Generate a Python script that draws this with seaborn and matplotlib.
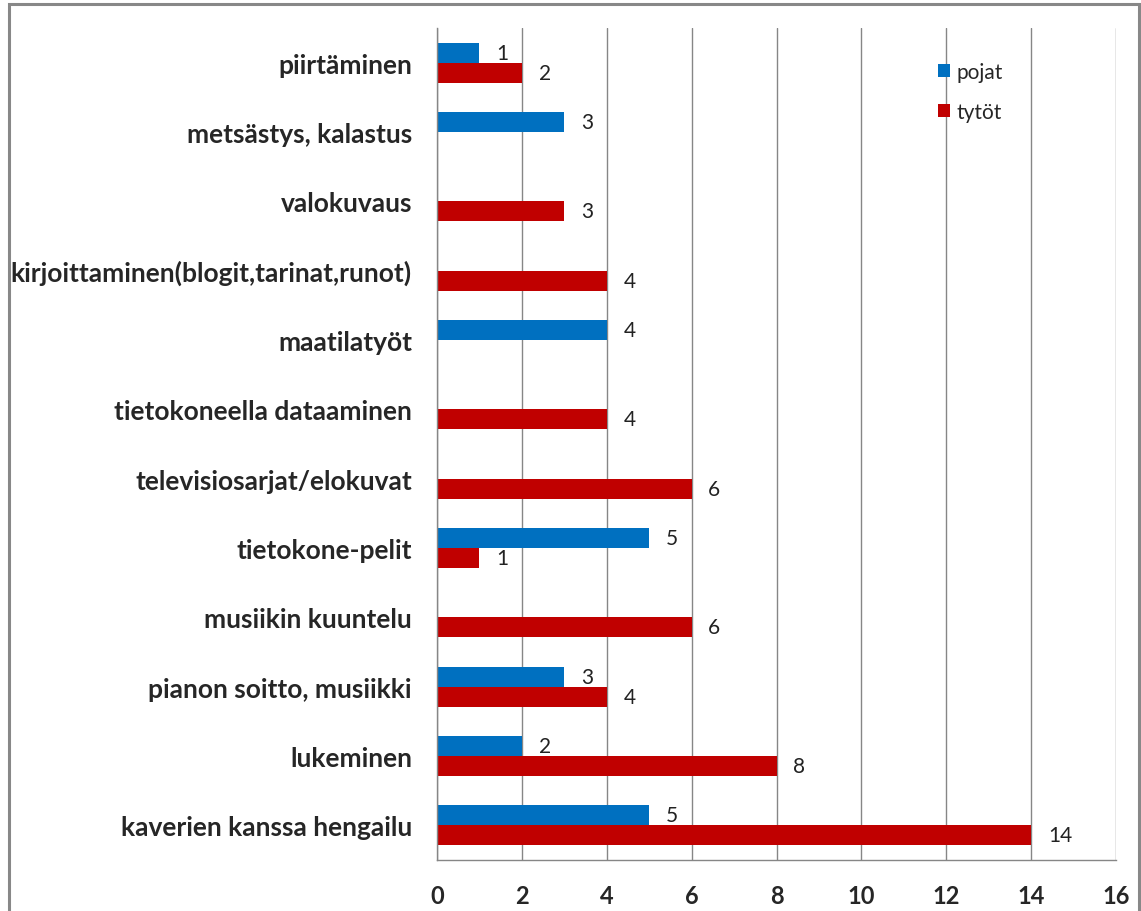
import matplotlib
matplotlib.use("Agg")
import matplotlib.pyplot as plt
import seaborn as sns
import pandas as pd
import numpy as np
from matplotlib.patches import Rectangle

categories = [
    "piirtäminen",
    "metsästys, kalastus",
    "valokuvaus",
    "kirjoittaminen(blogit,tarinat,runot)",
    "maatilatyöt",
    "tietokoneella dataaminen",
    "televisiosarjat/elokuvat",
    "tietokone-pelit",
    "musiikin kuuntelu",
    "pianon soitto, musiikki",
    "lukeminen",
    "kaverien kanssa hengailu",
]
pojat = [1, 3, 0, 0, 4, 0, 0, 5, 0, 3, 2, 5]
tytot = [2, 0, 3, 4, 0, 4, 6, 1, 6, 4, 8, 14]
series = ["pojat", "tytöt"]
colors = ["#0070C0", "#C00000"]
x_ticks = [0, 2, 4, 6, 8, 10, 12, 14, 16]

df = pd.DataFrame({
    "harrastus": categories * 2,
    "ryhmä": ["pojat"] * len(categories) + ["tytöt"] * len(categories),
    "määrä": pojat + tytot,
})

sns.set_style("white")
plt.rcParams["font.family"] = ["Lato", "DejaVu Sans"]

W, H = 1141, 912
fig = plt.figure(figsize=(W / 100, H / 100), dpi=100)
ax = fig.add_axes([437 / W, 1 - 861 / H, (1116 - 437) / W, (861 - 29) / H])

sns.barplot(
    data=df, y="harrastus", x="määrä", hue="ryhmä",
    order=categories, hue_order=series, palette=colors,
    orient="h", width=0.58, dodge=True, ax=ax, saturation=1,
    edgecolor="none", legend=True,
)

ax.set_xlim(0, 16)
ax.set_ylim(len(categories) - 0.5, -0.5)
ax.set_xticks(x_ticks)
ax.set_xticklabels([str(t) for t in x_ticks], fontsize=17, fontweight="bold")
ax.xaxis.grid(True, color="#868686", linewidth=1)
ax.yaxis.grid(False)
ax.set_axisbelow(True)
ax.set_xlabel("")
ax.set_ylabel("")

ax.set_yticks(range(len(categories)))
ax.set_yticklabels(categories, fontsize=19, fontweight="bold")
ax.set_yticks(np.arange(-0.5, len(categories)), minor=True)
ax.tick_params(axis="y", which="major", length=0, pad=18)
ax.tick_params(axis="y", which="minor", length=9, color="#868686", width=1)
ax.tick_params(axis="x", which="major", length=6, color="#868686", width=1, pad=11)

for side in ["top", "right"]:
    ax.spines[side].set_visible(False)
for side in ["left", "bottom"]:
    ax.spines[side].set_color("#868686")
    ax.spines[side].set_linewidth(1)

for cont in ax.containers:
    labels = [f"{v:g}" if v > 0 else "" for v in cont.datavalues]
    ax.bar_label(cont, labels=labels, padding=12, fontsize=15, color="#222222")

leg = ax.legend(
    loc="upper left", bbox_to_anchor=(0.71, 0.982), frameon=False,
    fontsize=15, handlelength=0.6, handleheight=0.6, handletextpad=0.3,
    labelspacing=0.95,
)

# chart frame: open at the bottom edge of the image
frame = Rectangle(
    (9 / W, -0.05), (1139 - 9) / W, 1.05 - 5 / H,
    transform=fig.transFigure, facecolor="none",
    edgecolor="#888888", linewidth=2.2, clip_on=False,
)
fig.patches.append(frame)

fig.savefig("out.png", dpi=100)
